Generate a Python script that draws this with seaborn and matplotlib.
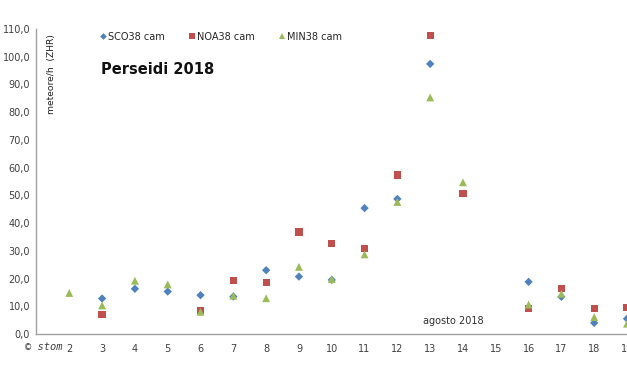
import matplotlib.pyplot as plt
import matplotlib.ticker as mticker
import numpy as np
import pandas as pd
import seaborn as sns

sns.set_theme(style="white")
plt.rcParams['font.family'] = ['DejaVu Sans']

# giorni di agosto 2018
giorni = list(range(2, 20))
nan = np.nan
sco38 = [nan, 12.8, 16.3, 15.3, 14.0, 13.5, 23.0, 20.7, 19.5, 45.4, 48.7, 97.4, nan, nan, 18.8, 13.4, 4.0, 5.5]
noa38 = [nan, 7.1, nan, nan, 8.5, 19.4, 18.5, 36.8, 32.6, 30.8, 57.3, 107.5, 50.7, nan, 9.2, 16.5, 9.1, 9.5]
min38 = [14.8, 10.3, 19.2, 17.9, 8.0, 13.8, 12.9, 24.2, 19.8, 28.7, 47.6, 85.3, 54.7, nan, 10.6, 14.5, 6.1, 3.7]
serie = ["SCO38 cam", "NOA38 cam", "MIN38 cam"]

df = pd.DataFrame({"giorno": giorni, serie[0]: sco38, serie[1]: noa38, serie[2]: min38})
df = df.melt(id_vars="giorno", var_name="camera", value_name="zhr").dropna()

colori = {"SCO38 cam": "#4F81BD", "NOA38 cam": "#C0504D", "MIN38 cam": "#9BBB59"}
marcatori = {"SCO38 cam": "D", "NOA38 cam": "s", "MIN38 cam": "^"}
dimensioni = {"SCO38 cam": 18, "NOA38 cam": 27, "MIN38 cam": 32}

fig = plt.figure(figsize=(6.27, 3.76), dpi=100)
ax = fig.add_axes([0.0582, 0.1117, 1 - 0.0582, 0.8113])

sns.scatterplot(data=df, x="giorno", y="zhr", hue="camera", style="camera", size="camera",
                hue_order=serie, style_order=serie, size_order=serie,
                palette=colori, markers=marcatori, sizes=dimensioni, linewidth=0, ax=ax)

ax.set_xlim(1, 19)
ax.set_ylim(0, 110)
ax.set_xticks(range(2, 20))
ax.xaxis.set_minor_locator(mticker.MultipleLocator(0.5))
ax.set_yticks(np.arange(0, 111, 10))
ax.yaxis.set_minor_locator(mticker.MultipleLocator(5))
ax.yaxis.set_major_formatter(mticker.FuncFormatter(lambda v, p: f"{v:.1f}".replace(".", ",")))

for s in ["top", "right"]:
    ax.spines[s].set_visible(False)
for s in ["left", "bottom"]:
    ax.spines[s].set_color("#A0A0A0")
    ax.spines[s].set_linewidth(1)

ax.tick_params(axis="both", which="both", colors="#A0A0A0", labelcolor="#404040", labelsize=7)
ax.tick_params(axis="x", which="major", direction="inout", length=7, pad=4)
ax.tick_params(axis="x", which="minor", direction="out", length=3)
ax.tick_params(axis="y", which="major", direction="out", length=3, pad=1.5)
ax.tick_params(axis="y", which="minor", direction="out", length=3)
ax.set_xlabel("")
ax.set_ylabel("")

# etichetta asse y dentro il grafico
ax.text(1.47, 93.8, "meteore/h  (ZHR)", rotation=90, ha="center", va="center",
        fontsize=6.6, color="#202020")
ax.text(2.97, 95.2, "Perseidi 2018", fontsize=10.5, fontweight="bold", color="#111111",
        ha="left", va="center")
ax.text(13.7, 4.7, "agosto 2018", fontsize=7, color="#303030", ha="center", va="center")
fig.text(0.04, 0.077, "© stom", fontsize=7.5, style="italic", family="DejaVu Sans Mono",
         color="#404040", ha="left", va="center")

sns.move_legend(ax, "center left", bbox_to_anchor=(0.09, 0.975), ncol=3, frameon=False,
                title=None, fontsize=7, handletextpad=0.0, columnspacing=2.3,
                markerscale=0.8, handlelength=1.0)

fig.savefig("out.png", dpi=100)
